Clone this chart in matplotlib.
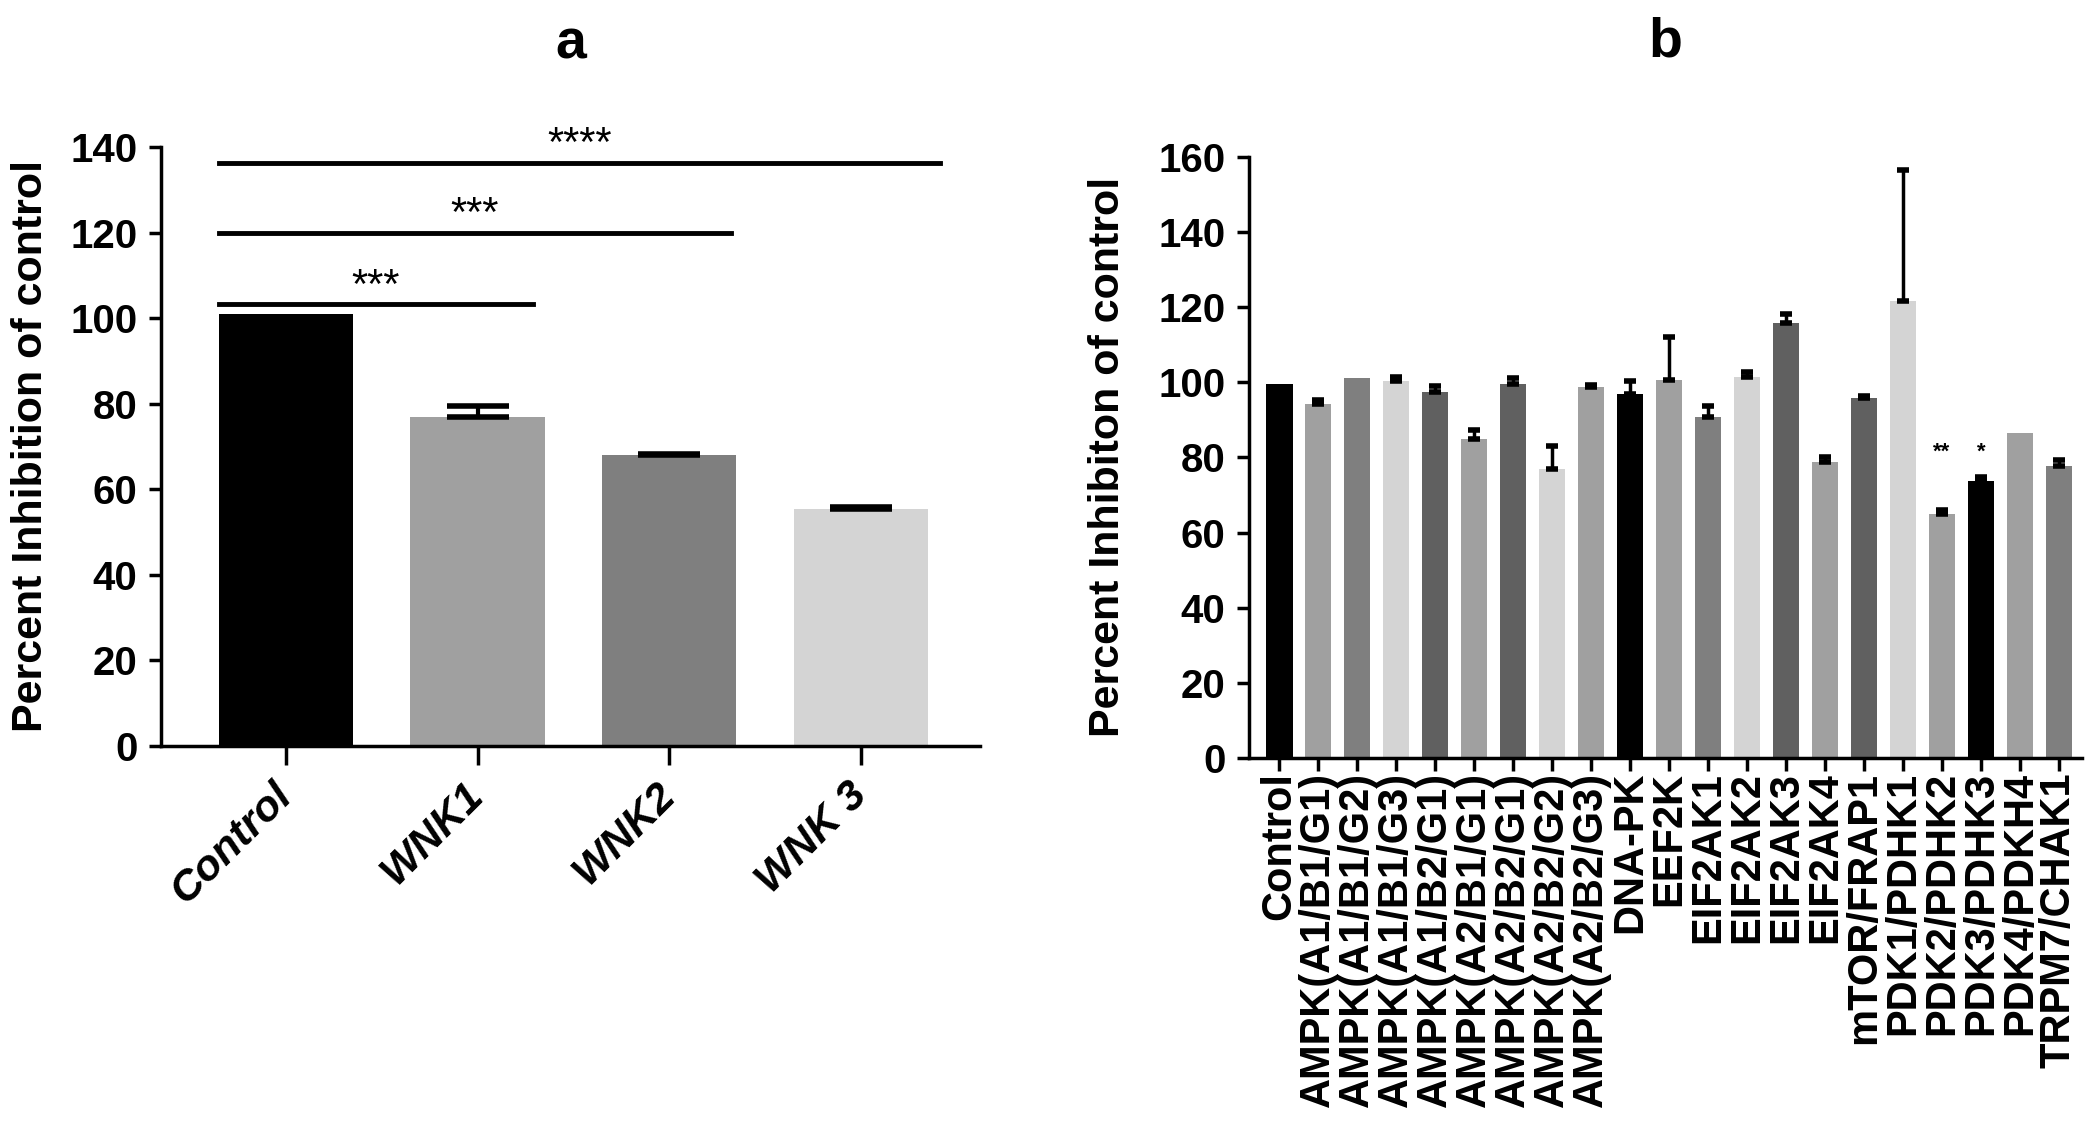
import numpy as np
import matplotlib
matplotlib.use("Agg")
import matplotlib.pyplot as plt
from matplotlib.transforms import ScaledTranslation

plt.rcParams['font.family'] = ['Liberation Sans', 'DejaVu Sans']

# Panel a data
a_labels = ["Control", "WNK1", "WNK2", "WNK 3"]
a_values = [101, 77, 68, 55.5]
a_errors = [0, 2.5, 0.3, 0.3]
a_colors = ["#000000", "#a0a0a0", "#7f7f7f", "#d4d4d4"]

# significance bars: (end category position, y level, stars)
a_sig_ends = [1.29, 2.32, 3.41]
a_sig_levels = [103.2, 120, 136.2]
a_sig_stars = ["***", "***", "****"]

# Panel b data
b_labels = [
    "Control",
    "AMPK(A1/B1/G1)", "AMPK(A1/B1/G2)", "AMPK(A1/B1/G3)", "AMPK(A1/B2/G1)",
    "AMPK(A2/B1/G1)", "AMPK(A2/B2/G1)", "AMPK(A2/B2/G2)", "AMPK(A2/B2/G3)",
    "DNA-PK", "EEF2K", "EIF2AK1", "EIF2AK2", "EIF2AK3", "EIF2AK4",
    "mTOR/FRAP1", "PDK1/PDHK1", "PDK2/PDHK2", "PDK3/PDHK3", "PDK4/PDKH4",
    "TRPM7/CHAK1",
]
b_values = [99.5, 94.2, 101.1, 100.3, 97.5, 84.9, 99.6, 76.8, 98.7, 97.0, 100.6,
            90.8, 101.5, 115.8, 78.8, 95.9, 121.6, 65.0, 73.7, 86.5, 77.7]
b_errors = [0, 1.1, 0, 1.2, 1.5, 2.5, 1.6, 6.2, 0.5, 3.3, 11.5,
            3.0, 1.3, 2.5, 1.4, 0.5, 35.0, 1.1, 1.1, 0, 1.6]
b_colors = ["#000000", "#a0a0a0", "#7f7f7f", "#d4d4d4", "#606060", "#a0a0a0",
            "#606060", "#d4d4d4", "#a0a0a0", "#000000", "#a0a0a0", "#7f7f7f",
            "#d4d4d4", "#606060", "#a0a0a0", "#606060", "#d4d4d4", "#a0a0a0",
            "#000000", "#a0a0a0", "#7f7f7f"]
b_stars = {17: "**", 18: "*"}

fig = plt.figure(figsize=(21, 11.45), dpi=100)

# ---- panel a ----
ax1 = fig.add_axes([0.0767, 0.3485, 0.39, 0.5231])
xa = np.arange(len(a_labels))
ax1.bar(xa, a_values, width=0.7, color=a_colors, zorder=2)
ea = np.array(a_errors)
m = ea > 0
ax1.errorbar(xa[m], np.array(a_values)[m], yerr=[np.zeros(m.sum()), ea[m]],
             fmt='none', ecolor='black', elinewidth=3, capsize=22, capthick=4,
             zorder=3)

for end, lvl, stars in zip(a_sig_ends, a_sig_levels, a_sig_stars):
    ax1.plot([-0.35, end], [lvl, lvl], color='black', lw=3.5, clip_on=False)
    ax1.text((-0.35 + end) / 2, lvl - 0.5, stars, ha='center', va='bottom',
             fontsize=30, clip_on=False)

ax1.set_xlim(-0.65, 3.62)
ax1.set_ylim(0, 140)
ax1.set_yticks(range(0, 141, 20))
ax1.set_xticks(xa)
ax1.set_xticklabels(a_labels, rotation=45, ha='right', va='center',
                    rotation_mode='anchor', fontsize=31, fontweight='bold',
                    fontstyle='italic')
shift = ScaledTranslation(18 / 100, 0, fig.dpi_scale_trans)
for lab in ax1.get_xticklabels():
    lab.set_transform(lab.get_transform() + shift)
ax1.set_ylabel("Percent Inhibition of control", fontsize=31, fontweight='bold',
               labelpad=14)
ax1.set_title("a", fontsize=40, fontweight='bold', pad=64)

# ---- panel b ----
ax2 = fig.add_axes([0.5948, 0.338, 0.3967, 0.525])
xb = np.arange(len(b_labels))
ax2.bar(xb, b_values, width=0.67, color=b_colors, zorder=2)
eb = np.array(b_errors)
m = eb > 0
ax2.errorbar(xb[m], np.array(b_values)[m], yerr=[np.zeros(m.sum()), eb[m]],
             fmt='none', ecolor='black', elinewidth=2.5, capsize=4, capthick=4,
             zorder=3)
for i, s in b_stars.items():
    ax2.text(xb[i], 78.5, s, ha='center', va='bottom', fontsize=16,
             fontweight='bold')

ax2.set_xlim(-0.78, 20.6)
ax2.set_ylim(0, 160)
ax2.set_yticks(range(0, 161, 20))
ax2.set_xticks(xb)
ax2.set_xticklabels(b_labels, rotation=90, fontsize=30, fontweight='bold')
ax2.set_ylabel("Percent Inhibiton of control", fontsize=31, fontweight='bold',
               labelpad=22)
ax2.set_title("b", fontsize=40, fontweight='bold', pad=72)

for ax in (ax1, ax2):
    for side in ('top', 'right'):
        ax.spines[side].set_visible(False)
    for side in ('left', 'bottom'):
        ax.spines[side].set_linewidth(2.5)
    ax.tick_params(axis='both', width=2.5, length=9, direction='out')
    for lab in ax.get_yticklabels():
        lab.set_fontweight('bold')
        lab.set_fontsize(29)
    ax.tick_params(axis='y', pad=8)
ax1.tick_params(axis='x', length=14, pad=17)
ax2.tick_params(axis='x', pad=1)

fig.savefig("out.png", dpi=100)
